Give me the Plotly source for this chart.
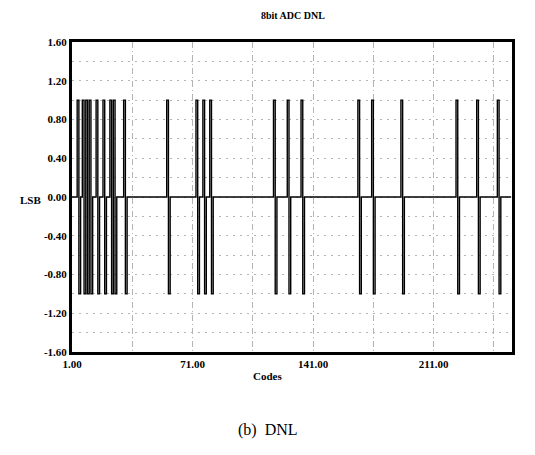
import plotly.graph_objects as go

# Codes where DNL spikes to +1 (the following code is a missing code at -1)
spike_codes = [4, 7, 9, 11, 15, 19, 23, 25, 31, 56, 73, 77, 81,
               118, 126, 134, 167, 175, 192, 224, 236, 248]
spike_high = 1.0
spike_low = -1.0
n_codes = 256

codes = list(range(1, n_codes + 1))
dnl = [0.0] * n_codes
for c in spike_codes:
    dnl[c - 1] = spike_high
    dnl[c] = spike_low

y_tickvals = [1.6, 1.2, 0.8, 0.4, 0.0, -0.4, -0.8, -1.2, -1.6]
y_ticktext = ["1.60", "1.20", "0.80", "0.40", "0.00", "-0.40", "-0.80", "-1.20", "-1.60"]
x_tickvals = [1, 71, 141, 211]
x_ticktext = ["1.00", "71.00", "141.00", "211.00"]
x_minor = [36, 106, 176, 246]
y_minor = [1.4, 1.0, 0.6, 0.2, -0.2, -0.6, -1.0, -1.4]

SERIF = "Liberation Serif"
bold = dict(family=SERIF, size=11, color="black", weight="bold")
GRID = "#b4b4b4"
XDASH = "6px,3px,1px,3px"
YDASH = "2px,5px"

fig = go.Figure()
fig.add_trace(go.Scatter(x=codes, y=dnl, mode="lines", line_shape="hv",
                         line=dict(color="black", width=1.4),
                         showlegend=False))

fig.update_xaxes(range=[1, 256.5], tickmode="array", tickvals=x_tickvals,
                 ticktext=x_ticktext, tickfont=bold, ticks="",
                 showline=True, mirror=True, linecolor="black", linewidth=3,
                 showgrid=True, gridcolor=GRID, gridwidth=1,
                 griddash=XDASH, zeroline=False,
                 minor=dict(tickmode="array", tickvals=x_minor, showgrid=True,
                            gridcolor=GRID, griddash=XDASH, ticks=""))
fig.update_yaxes(range=[-1.6, 1.6], tickmode="array", tickvals=y_tickvals,
                 ticktext=y_ticktext, tickfont=bold, ticks="",
                 showline=True, mirror=True, linecolor="black", linewidth=3,
                 showgrid=True, gridcolor=GRID, gridwidth=1,
                 griddash=YDASH, zeroline=False,
                 minor=dict(tickmode="array", tickvals=y_minor, showgrid=True,
                            gridcolor=GRID, griddash=YDASH, ticks=""))

fig.update_layout(
    width=535, height=455,
    margin=dict(l=72, r=23, t=42, b=103),
    plot_bgcolor="white", paper_bgcolor="white",
    title=dict(text="8bit ADC DNL", font=dict(family=SERIF, size=10, color="black", weight="bold"),
               x=0.502, xref="paper", xanchor="center",
               y=1 - 15 / 455, yref="container", yanchor="middle"),
    annotations=[
        dict(text="Codes", x=0.445, y=-0.077, xref="paper", yref="paper",
             xanchor="center", yanchor="middle", showarrow=False,
             font=dict(family=SERIF, size=11, color="black", weight="bold")),
        dict(text="LSB", x=-0.095, y=0.49, xref="paper", yref="paper",
             xanchor="center", yanchor="middle", showarrow=False,
             font=dict(family=SERIF, size=11, color="black", weight="bold")),
        dict(text="(b)  DNL", x=0.445, y=-0.252, xref="paper", yref="paper",
             xanchor="center", yanchor="middle", showarrow=False,
             font=dict(family=SERIF, size=16, color="black")),
    ],
)

fig.write_html("out.html")
